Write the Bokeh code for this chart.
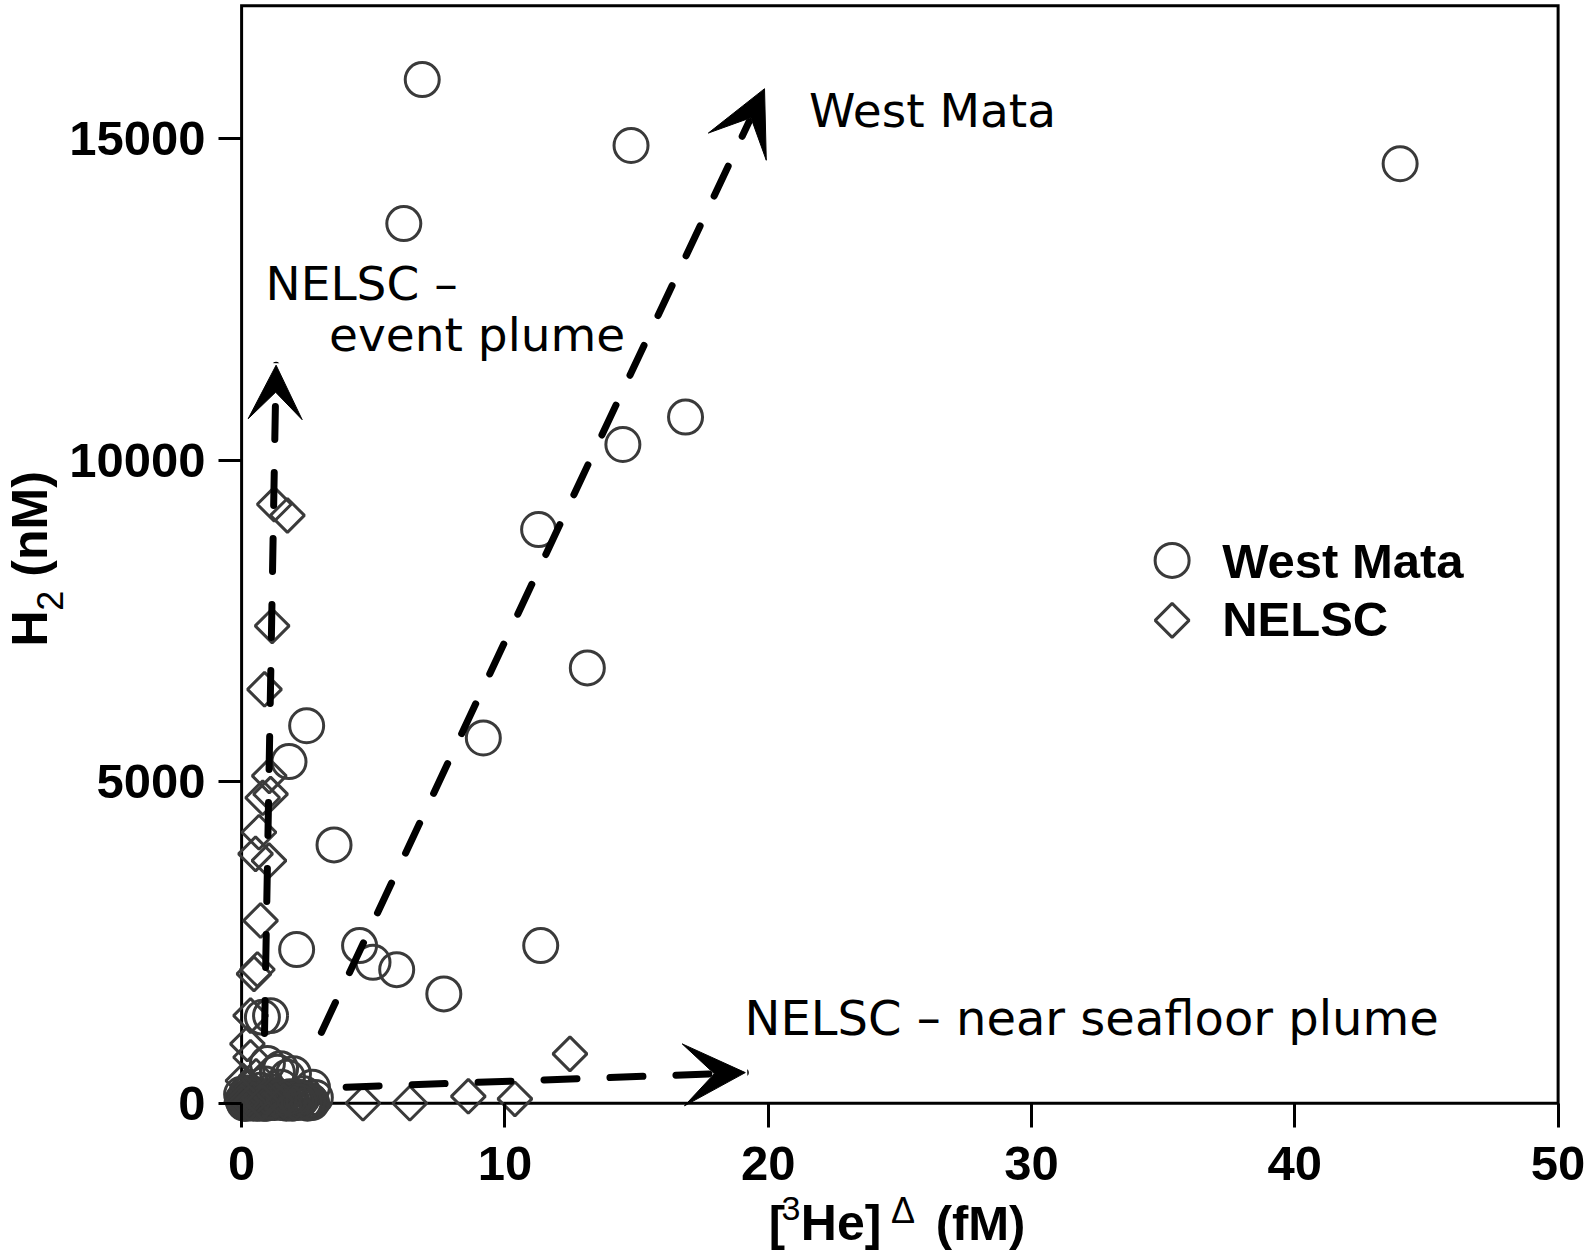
import numpy as np
from bokeh.plotting import figure
from bokeh.models import Label, Arrow, VeeHead, FixedTicker, Range1d
from bokeh.embed import file_html
from bokeh.resources import INLINE

# ---------------- data ----------------
wm_x = [6.86, 14.79, 44.0, 6.16, 16.86, 14.48, 11.28, 13.13, 9.18, 2.47, 1.80, 3.51,
        2.09, 4.48, 4.99, 5.89, 7.68, 11.36, 1.10, 0.79, 0.98, 1.36, 1.74, 2.69, 2.35,
        1.48, 1.97, 0.30, 0.50, 0.80, 1.20, 1.60, 2.00, 2.40, 0.20, 0.60, 1.00, 1.40,
        1.80, 2.20, 0.10, 0.40, 0.70, 1.10, 0.90, 1.50, 2.60, 2.80,
        0.05, 0.15, 0.25, 0.35, 0.45, 0.55, 0.65, 0.75, 0.85, 0.95, 1.05, 1.25, 1.55,
        1.70, 1.90, 2.10, 2.30, 2.50, 0.00, 0.20, 0.60, 1.30,
        0.12, 0.28, 0.42, 0.58, 0.72, 0.88, 1.02, 1.18, 1.32, 1.46, 1.62, 1.78, 1.92,
        2.08, 2.22, 2.38, 2.52, 2.66, 0.32, 0.68, 1.08, 1.42, 1.84, 2.18]
wm_y = [15917, 14892, 14608, 13678, 10669, 10243, 8920, 6769, 5680, 5870, 5312, 4017,
        2389, 2451, 2191, 2077, 1700, 2451, 1362, 1336, 616, 481, 403, 247, 149,
        538, 460, 30, 20, 60, 40, 10, 50, 20, 80, 120, 100, 90, 30, 60, 0, 10, 200,
        180, 300, 250, 40, 90,
        50, 0, 30, 70, 0, 40, 10, 60, 20, 0, 50, 10, 70, 0, 40, 10, 80, 0, 140, 160,
        5, 120,
        20, 60, 10, 90, 30, 0, 70, 20, 100, 40, 10, 60, 0, 30, 90, 20, 50, 10, 110, 0,
        30, 80, 100, 20]

nel_x = [4.61, 6.39, 8.61, 10.38, 12.47, 1.24, 1.74, 1.16, 0.87, 1.05, 1.10, 0.80,
         0.66, 0.53, 1.04, 0.72, 0.47, 0.60, 0.34, 0.22, 0.34, 0.05, 0.15, 0.45, 0.70,
         0.25, 0.90, 1.30, 0.10, 0.55, 0.00, 0.30, 0.80, 1.60, 2.00]
nel_y = [0, 0, 107, 67, 767, 9313, 9140, 7422, 6436, 5090, 4807, 4750, 4213, 3877,
         3773, 2840, 2011, 2080, 1362, 922, 714, 350, 150, 60, 20, 250, 100, 40, 0, 420,
         20, 0, 10, 30, 0]

x_ticks = [0, 10, 20, 30, 40, 50]
y_ticks = [0, 5000, 10000, 15000]
x_max = 50
y_top = 17065

# trend arrows: (x_start, y_start, x_end, y_end, head size)
arrows = [(3.03, 1101, 19.86, 15775, 64),   # West Mata
          (0.87, 1085, 1.31, 11476, 54),    # NELSC event plume
          (3.97, 250, 19.13, 476, 62)]      # NELSC near seafloor plume

# annotation texts: (text, x, y, font size)
notes = [("West Mata", 21.55, 15429, "47px"),
         ("NELSC \u2013", 0.91, 12754, "47px"),
         ("event plume", 3.32, 11953, "47px"),
         ("NELSC \u2013 near seafloor plume", 19.10, 1320, "48px")]

legend_names = ["West Mata", "NELSC"]
legend_marker_x = 35.34
legend_marker_y = [8441, 7508]
legend_text_x = 37.24
legend_text_y = [8439, 7532]

MARK = "#3a3a3a"
W, H = 1585, 1255

p = figure(frame_width=W, frame_height=H,
           x_range=Range1d(-9.157, 51.04), y_range=Range1d(-2368, 17147),
           output_backend="svg", toolbar_location=None, title=None,
           min_border_left=0, min_border_right=0, min_border_top=0,
           min_border_bottom=0)
p.outline_line_color = None
p.xgrid.visible = False
p.ygrid.visible = False

for ax in (p.xaxis, p.yaxis):
    ax.fixed_location = 0
    ax.axis_line_color = None
    ax.minor_tick_line_color = None
    ax.major_tick_line_width = 3
    ax.major_tick_line_color = "black"
    ax.major_tick_in = 0
    ax.major_label_text_font = "Liberation Sans"
    ax.major_label_text_font_style = "bold"
    ax.major_label_text_font_size = "49px"
    ax.major_label_text_color = "black"

p.xaxis.ticker = FixedTicker(ticks=x_ticks)
p.yaxis.ticker = FixedTicker(ticks=y_ticks)
p.xaxis.major_tick_out = 24
p.yaxis.major_tick_out = 23
p.xaxis.major_label_standoff = 20
p.yaxis.major_label_standoff = 13
p.yaxis.major_label_orientation = "horizontal"

# frame box (axes at x=0 and y=0)
p.line([0, x_max, x_max, 0, 0], [0, 0, y_top, y_top, 0], line_color="black",
       line_width=3, line_join="miter")

# data
p.scatter(wm_x, wm_y, marker="circle", size=34, fill_color=None,
          line_color=MARK, line_width=3)
p.scatter(nel_x, nel_y, marker="square", angle=np.pi / 4, size=24, fill_color=None,
          line_color=MARK, line_width=3)

# arrows
for (xs, ys, xe, ye, hs) in arrows:
    p.add_layout(Arrow(x_start=xs, y_start=ys, x_end=xe, y_end=ye,
                       line_width=7, line_color="black", line_dash="33 33",
                       line_cap="round",
                       end=VeeHead(size=hs, fill_color="black", line_color="black",
                                   line_width=1)))

for (t, x, y, fs) in notes:
    p.add_layout(Label(x=x, y=y, text=t, text_font="DejaVu Sans",
                       text_font_size=fs, text_color="black",
                       text_baseline="alphabetic", text_align="left"))

# legend (manual)
p.scatter([legend_marker_x], [legend_marker_y[0]], marker="circle", size=34,
          fill_color=None, line_color=MARK, line_width=3)
p.scatter([legend_marker_x], [legend_marker_y[1]], marker="square", angle=np.pi / 4,
          size=24, fill_color=None, line_color=MARK, line_width=3)
for name, ty in zip(legend_names, legend_text_y):
    p.add_layout(Label(x=legend_text_x, y=ty, text=name, text_font="Liberation Sans",
                       text_font_style="bold", text_font_size="49px",
                       text_color="black", text_baseline="alphabetic"))

# x axis label: [3He]^Δ (fM)
xl = [("[", 20.02, -1863, "bold", "49px"),
      ("3", 20.50, -1632, "normal", "34px"),
      ("He]", 21.24, -1863, "bold", "50px"),
      ("\u0394", 24.66, -1669, "normal", "36px"),
      ("(fM)", 26.36, -1863, "bold", "49px")]
for (t, x, y, st, fs) in xl:
    p.add_layout(Label(x=x, y=y, text=t, text_font="Liberation Sans",
                       text_font_style=st, text_font_size=fs, text_color="black",
                       text_baseline="alphabetic"))

# y axis label: H2 (nM)
yl = [("H", -8.03, 7102, "bold", "50px"),
      ("2", -7.29, 7659, "normal", "36px"),
      ("(nM)", -8.03, 8188, "bold", "50px")]
for (t, x, y, st, fs) in yl:
    p.add_layout(Label(x=x, y=y, text=t, text_font="Liberation Sans",
                       text_font_style=st, text_font_size=fs, text_color="black",
                       text_baseline="alphabetic", angle=np.pi / 2))

open("out.html", "w").write(file_html(p, INLINE))
